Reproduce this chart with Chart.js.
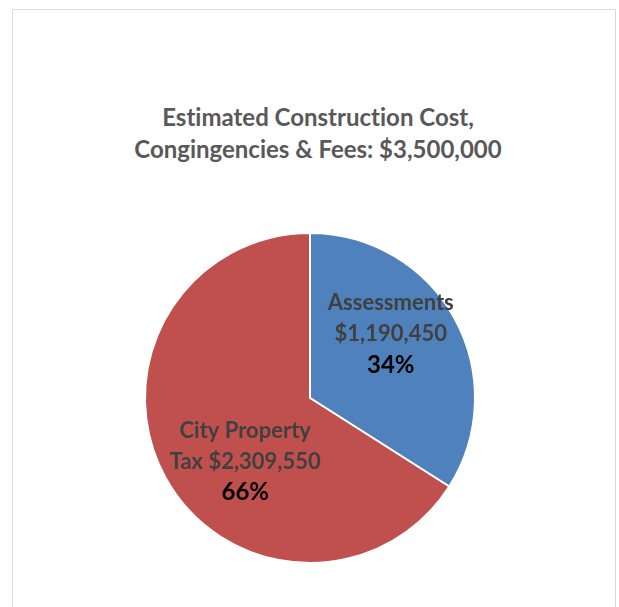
<!DOCTYPE html>
<html>
<head>
<meta charset="utf-8">
<script src="https://cdn.jsdelivr.net/npm/chart.js@4/dist/chart.umd.min.js"></script>
<style>
  html, body { margin: 0; padding: 0; background: #fff; }
  body { width: 619px; height: 607px; position: relative; overflow: hidden; }
  #frame {
    position: absolute; left: 12px; top: 9px; width: 604px; height: 620px;
    border: 1px solid #d9d9d9; box-sizing: border-box;
  }
  #titre {
    position: absolute; left: 18px; width: 600px; top: 101px;
    text-align: center; font-family: Lato, sans-serif; font-weight: bold;
    font-size: 24px; line-height: 32px; color: #595959;
    font-variant-ligatures: none;
  }
  #boite { position: absolute; left: 0; top: 0; width: 619px; height: 607px; }
</style>
</head>
<body>
<div id="frame"></div>
<div id="titre">Estimated Construction Cost,<br>Congingencies &amp; Fees: $3,500,000</div>
<div id="boite"><canvas id="graficoPie"></canvas></div>
<script>
// Données du graphique
const categories = ['Assessments', 'City Property Tax'];
const montants = [1190450, 2309550];
const couleurs = ['#4F81BD', '#C0504D'];
// coupure des libellés comme dans l'original
const lignesLibelle = [['Assessments'], ['City Property', 'Tax']];

const total = montants.reduce((acc, v) => acc + v, 0);

// Étiquettes dessinées au milieu de chaque part
const etiquettesPlugin = {
  id: 'etiquettes',
  afterDatasetsDraw(chart, args, opts) {
    const ctx = chart.ctx;
    const arcs = chart.getDatasetMeta(0).data;
    arcs.forEach((arc, i) => {
      const p = arc.getProps(['x', 'y', 'startAngle', 'endAngle', 'outerRadius'], true);
      const mid = (p.startAngle + p.endAngle) / 2;
      const r = p.outerRadius * opts.fraction;
      const off = opts.offsets[i];
      const cx = p.x + Math.cos(mid) * r + off[0];
      const cy = p.y + Math.sin(mid) * r + off[1];

      const lignes = lignesLibelle[i].slice();
      const montant = '$' + montants[i].toLocaleString('en-US');
      if (lignes.length > 1) {
        lignes[lignes.length - 1] += ' ' + montant;
      } else {
        lignes.push(montant);
      }
      const pct = Math.round(montants[i] / total * 100) + '%';

      ctx.save();
      ctx.textAlign = 'center';
      ctx.textBaseline = 'middle';
      ctx.font = 'bold 22px Lato, sans-serif';
      ctx.fillStyle = '#404040';
      const h = 31;
      const y0 = cy - h;
      lignes.forEach((l, k) => ctx.fillText(l, cx, y0 + k * h));
      ctx.fillStyle = '#000000';
      ctx.font = 'bold 24px Lato, sans-serif';
      ctx.fillText(pct, cx, y0 + lignes.length * h);
      ctx.restore();
    });
  }
};

const ctx = document.getElementById('graficoPie').getContext('2d');
new Chart(ctx, {
  type: 'pie',
  data: {
    labels: categories,
    datasets: [{
      data: montants,
      backgroundColor: couleurs,
      borderColor: '#ffffff',
      borderWidth: 2
    }]
  },
  options: {
    responsive: true,
    maintainAspectRatio: false,
    animation: false,
    layout: { padding: { top: 232, bottom: 43, left: 144, right: 143 } },
    plugins: {
      legend: { display: false },
      tooltip: { enabled: false },
      etiquettes: { fraction: 0.6, offsets: [[-6, -16], [22, 16]] }
    }
  },
  plugins: [etiquettesPlugin]
});
</script>
</body>
</html>
